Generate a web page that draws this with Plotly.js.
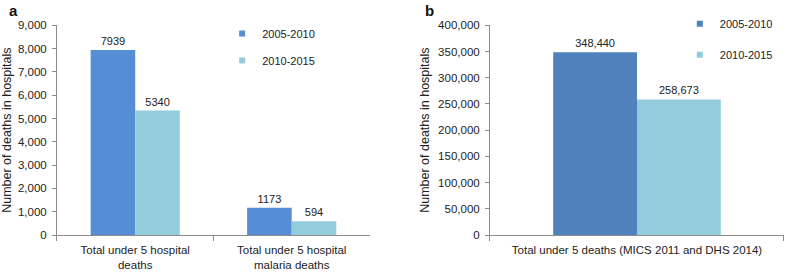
<!DOCTYPE html>
<html>
<head>
<meta charset="utf-8">
<script src="https://cdn.plot.ly/plotly-3.0.1.min.js"></script>
<style>html,body{margin:0;padding:0;background:#fff;}#chart{width:785px;height:272px;}</style>
</head>
<body>
<div id="chart"></div>
<script>
// Panel a
var catsA = ["Total under 5 hospital<br>deaths", "Total under 5 hospital<br>malaria deaths"];
var a2005 = [7939, 1173];
var a2010 = [5340, 594];
// Panel b
var catsB = ["Total under 5 deaths (MICS 2011 and DHS 2014)"];
var b2005 = [348440];
var b2010 = [258673];
var seriesNames = ["2005-2010", "2010-2015"];
var yTitle = "Number of deaths in hospitals";

var cA1 = "#558ED5", cB1 = "#4F81BD", c2 = "#93CDDD";
var FAM = "Liberation Sans, Arial, sans-serif";
var txtFont = {family: FAM, size: 11, color: "#222"};

var traces = [
  {type: "bar", x: catsA, y: a2005, name: seriesNames[0], marker: {color: cA1}, xaxis: "x", yaxis: "y",
   text: a2005.map(String), textposition: "outside", textfont: txtFont, cliponaxis: false, showlegend: false, hoverinfo: "y"},
  {type: "bar", x: catsA, y: a2010, name: seriesNames[1], marker: {color: c2}, xaxis: "x", yaxis: "y",
   text: a2010.map(String), textposition: "outside", textfont: txtFont, cliponaxis: false, showlegend: false, hoverinfo: "y"},
  {type: "bar", x: catsB, y: b2005, name: seriesNames[0], marker: {color: cB1}, xaxis: "x2", yaxis: "y2",
   texttemplate: "%{y:,}", textposition: "outside", textfont: txtFont, cliponaxis: false, showlegend: false, hoverinfo: "y"},
  {type: "bar", x: catsB, y: b2010, name: seriesNames[1], marker: {color: c2}, xaxis: "x2", yaxis: "y2",
   texttemplate: "%{y:,}", textposition: "outside", textfont: txtFont, cliponaxis: false, showlegend: false, hoverinfo: "y"},
  // legend entries
  {type: "scatter", mode: "markers", x: [null], y: [null], name: seriesNames[0], marker: {symbol: "square", size: 6, color: cA1},
   xaxis: "x", yaxis: "y", legend: "legend", legendgroup: "a1"},
  {type: "scatter", mode: "markers", x: [null], y: [null], name: seriesNames[1], marker: {symbol: "square", size: 6, color: c2},
   xaxis: "x", yaxis: "y", legend: "legend", legendgroup: "a2"},
  {type: "scatter", mode: "markers", x: [null], y: [null], name: seriesNames[0], marker: {symbol: "square", size: 6, color: cB1},
   xaxis: "x2", yaxis: "y2", legend: "legend2", legendgroup: "b1"},
  {type: "scatter", mode: "markers", x: [null], y: [null], name: seriesNames[1], marker: {symbol: "square", size: 6, color: c2},
   xaxis: "x2", yaxis: "y2", legend: "legend2", legendgroup: "b2"}
];

var axFont = {family: FAM, size: 11.5, color: "#222"};
var legFont = {family: FAM, size: 11, color: "#222"};
var titleFont = {family: FAM, size: 12.5, color: "#222"};
var yDom = [0.136, 0.907];

function xAx(dom, anchor) {
  return {domain: dom, anchor: anchor, type: "category", showline: true, linecolor: "#8c8c8c", linewidth: 1,
    ticks: "outside", tickson: "boundaries", ticklen: 5, tickcolor: "#8c8c8c", tickfont: axFont,
    ticklabelstandoff: 4,
    showgrid: false, zeroline: false, fixedrange: true, automargin: false};
}
function yAx(range, dtick, anchor) {
  return {domain: yDom, anchor: anchor, range: range, dtick: dtick, tickformat: ",d", showline: true,
    linecolor: "#8c8c8c", linewidth: 1, ticks: "outside", ticklen: 4, tickcolor: "#8c8c8c", tickfont: axFont,
    ticklabelstandoff: 3,
    showgrid: false, zeroline: false, automargin: false,
    title: {text: yTitle, font: titleFont, standoff: 5}};
}

var layout = {
  width: 785, height: 272,
  margin: {l: 0, r: 0, t: 0, b: 0},
  paper_bgcolor: "#fff", plot_bgcolor: "#fff",
  font: axFont,
  barmode: "group", bargap: 0.43, bargroupgap: 0,
  xaxis: xAx([0.0726, 0.4713], "y"),
  yaxis: yAx([0, 9000], 1000, "x"),
  xaxis2: xAx([0.6242, 0.9987], "y2"),
  yaxis2: yAx([0, 400000], 50000, "x2"),
  legend: {x: 0.283, y: 0.93, xanchor: "left", yanchor: "top", bgcolor: "rgba(0,0,0,0)",
    font: legFont, tracegroupgap: 8, itemclick: false},
  legend2: {x: 0.866, y: 0.966, xanchor: "left", yanchor: "top", bgcolor: "rgba(0,0,0,0)",
    font: legFont, tracegroupgap: 12, itemclick: false},
  annotations: [
    {text: "<b>a</b>", xref: "paper", yref: "paper", x: 13 / 785, y: 1 - 11 / 272, showarrow: false,
      font: {family: FAM, size: 15, color: "#111"}, xanchor: "center", yanchor: "middle"},
    {text: "<b>b</b>", xref: "paper", yref: "paper", x: 429 / 785, y: 1 - 11 / 272, showarrow: false,
      font: {family: FAM, size: 15, color: "#111"}, xanchor: "center", yanchor: "middle"}
  ]
};

Plotly.newPlot("chart", traces, layout, {displayModeBar: false, staticPlot: true});
</script>
</body>
</html>
